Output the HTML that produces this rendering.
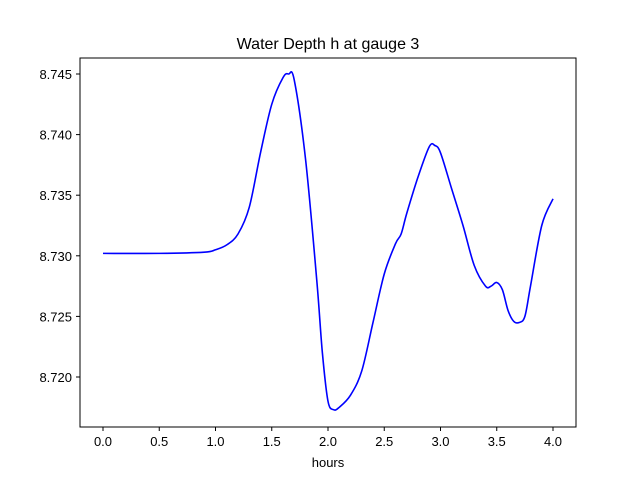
<!DOCTYPE html>
<html><head><meta charset="utf-8"><style>
body{margin:0;background:#fff;}
svg{display:block;font-family:"Liberation Sans","DejaVu Sans",sans-serif;}
</style></head><body>
<svg id="chart" width="640" height="480">
<rect width="640" height="480" fill="#fff"/>
<text x="328" y="49" font-size="16" text-anchor="middle">Water Depth h at gauge 3</text>
<g id="axes"></g>
<text x="328" y="467" font-size="13" text-anchor="middle">hours</text>
</svg>
<script>
const hours=[0,0.5,0.9,1.0,1.1,1.2,1.3,1.4,1.5,1.6,1.65,1.7,1.8,1.9,1.95,2.0,2.05,2.1,2.2,2.3,2.4,2.5,2.6,2.65,2.7,2.8,2.9,2.95,3.0,3.1,3.2,3.3,3.4,3.45,3.5,3.55,3.6,3.65,3.7,3.75,3.8,3.9,4.0];
const depth=[8.7302,8.7302,8.7303,8.7305,8.7309,8.7318,8.7340,8.7385,8.7425,8.7447,8.7450,8.7445,8.7380,8.7280,8.7220,8.7180,8.7173,8.7175,8.7185,8.7205,8.7245,8.7285,8.7310,8.7318,8.7335,8.7365,8.7390,8.7391,8.7385,8.7355,8.7325,8.7292,8.7275,8.7275,8.7278,8.7272,8.7255,8.7246,8.7245,8.7250,8.7275,8.7325,8.7347];
const xTicks=[0,0.5,1,1.5,2,2.5,3,3.5,4];
const yTicks=[8.720,8.725,8.730,8.735,8.740,8.745];
const xs=h=>103+h*112.5;
const ys=v=>377-(v-8.720)*(303/0.025);
const NS="http://www.w3.org/2000/svg";
const g=document.getElementById('axes');
function mk(t,a){const e=document.createElementNS(NS,t);for(const k in a)e.setAttribute(k,a[k]);g.appendChild(e);return e;}
const frame=mk('rect',{x:80,y:58,width:496,height:369,fill:'none',stroke:'#000','stroke-width':1});


xTicks.forEach(t=>{const x=xs(t);
 const l=mk('line',{x1:x,x2:x,y1:427,y2:431,stroke:'#000'});
 
 
 const tx=mk('text',{x:x,y:446,'font-size':13,'text-anchor':'middle'});tx.textContent=t.toFixed(1);
 
 
});
yTicks.forEach(t=>{const y=ys(t);
 const l=mk('line',{x1:76,x2:80,y1:y,y2:y,stroke:'#000'});
 
 
 const tx=mk('text',{x:72,y:y+5,'font-size':13,'text-anchor':'end'});tx.textContent=t.toFixed(3);
 
 
});
const pts=hours.map((h,i)=>[xs(h),ys(depth[i])]);
let d='M'+pts[0][0]+','+pts[0][1];
for(let i=0;i<pts.length-1;i++){
 const p0=pts[i-1]||pts[i],p1=pts[i],p2=pts[i+1],p3=pts[i+2]||p2;
 const c1=[p1[0]+(p2[0]-p0[0])/6,p1[1]+(p2[1]-p0[1])/6];
 const c2=[p2[0]-(p3[0]-p1[0])/6,p2[1]-(p3[1]-p1[1])/6];
 d+=` C${c1[0]},${c1[1]} ${c2[0]},${c2[1]} ${p2[0]},${p2[1]}`;
}
const line=mk('path',{d:d,fill:'none',stroke:'#0000ff','stroke-width':1.6});


</script>
</body></html>
